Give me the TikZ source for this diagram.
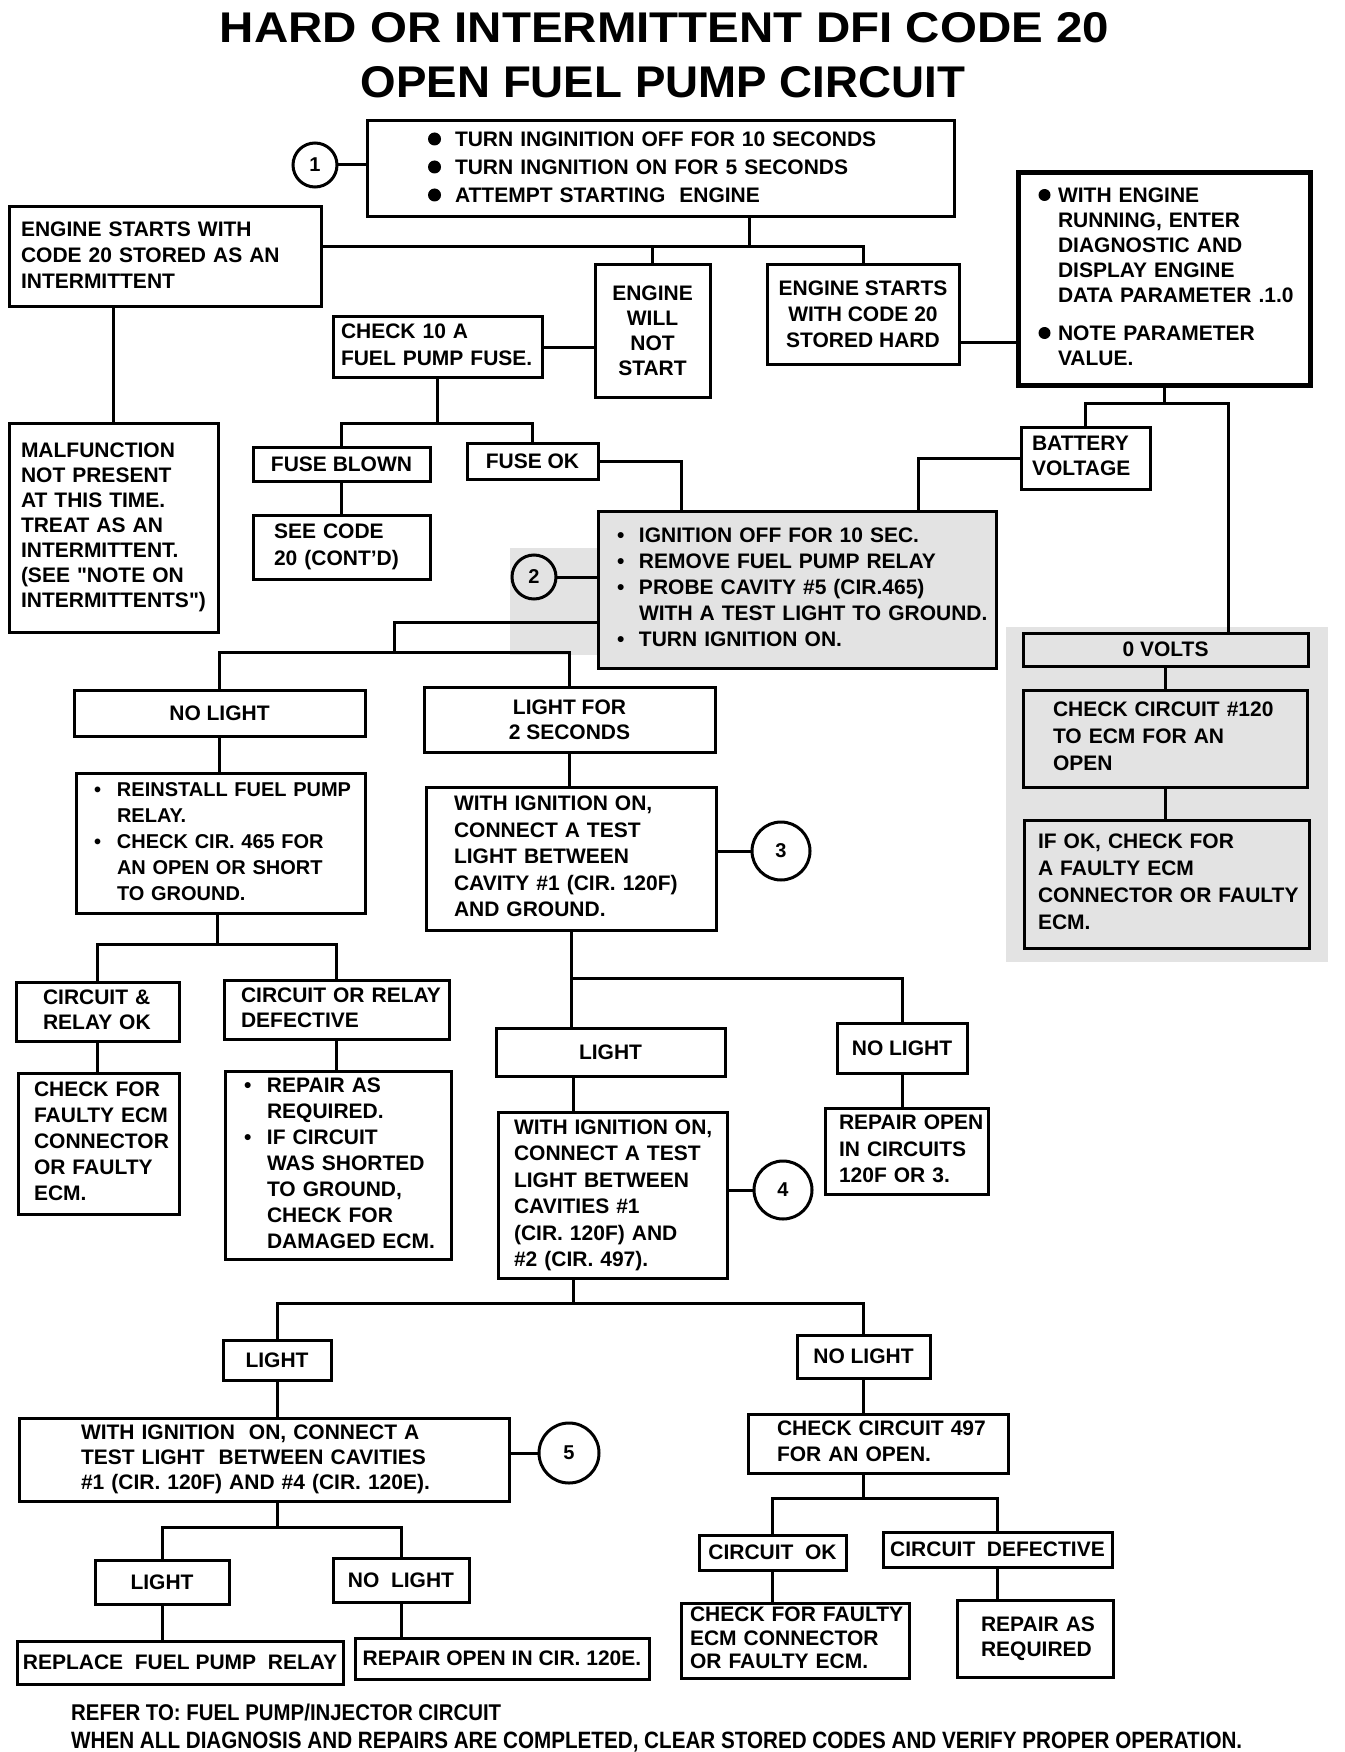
\documentclass[tikz,border=0pt]{standalone}
\usepackage{fontspec}
\setmainfont{Liberation Sans}
\newcommand\smb[1]{\makebox[#1][l]{\textbullet}}
\newcommand\txl[1]{\begin{tabular}{@{}l@{}}#1\end{tabular}}
\definecolor{stipple}{gray}{0.89}
\begin{document}
\begin{tikzpicture}[x=1pt,y=-1pt,
  bx/.style={draw, line width=3pt, inner sep=0pt, font=\bfseries\fontsize{21}{#1}\selectfont},
  bx/.default=26,
  circ/.style={draw, circle, line width=3pt, inner sep=0pt, font=\bfseries\fontsize{20}{24}\selectfont},
  ln/.style={line width=3pt, line cap=rect},
  dotb/.style={fill=black},
  ttl/.style={inner sep=0pt, anchor=base, font=\bfseries},
  foot/.style={inner sep=0pt, anchor=base west, font=\bfseries}]
\useasboundingbox (0,0) rectangle (1344,1752);
\fill[white] (0,0) rectangle (1344,1752);
% stippled backgrounds
\fill[stipple] (510,548) rectangle (598,655);
\fill[stipple] (1006,627) rectangle (1328,962);

% titles
\node[ttl] (t1) at (664.5,43) {\resizebox{889pt}{30pt}{HARD OR INTERMITTENT DFI CODE 20}};
\node[ttl] (t2) at (663,98) {\resizebox{604pt}{31pt}{OPEN FUEL PUMP CIRCUIT}};

% boxes
\node[bx=28, minimum width=587pt, minimum height=96pt, text width=465pt, align=left] (steps) at (660.5,169)
  {\txl{\hspace*{27pt}TURN INGINITION OFF FOR 10 SECONDS\\ \hspace*{27pt}TURN INGNITION ON FOR 5 SECONDS\\ \hspace*{27pt}ATTEMPT STARTING\ \ ENGINE}};
\fill[dotb] (434.5,139) circle (6.5);
\fill[dotb] (434.5,167) circle (6.5);
\fill[dotb] (434.5,195) circle (6.5);
\node[circ, minimum size=44pt] (c1) at (315,165) {1};

\node[bx=26, minimum width=312pt, minimum height=100pt, text width=288pt, align=left] (intermit) at (165,257)
  {\txl{ENGINE STARTS WITH\\CODE 20 STORED AS AN\\INTERMITTENT}};
\node[bx=25, minimum width=115pt, minimum height=132pt, align=center] (nostart) at (652.5,331)
  {ENGINE\\WILL\\NOT\\START};
\node[bx=26, minimum width=192pt, minimum height=99pt, align=center] (hard) at (863,314.5)
  {ENGINE STARTS\\WITH CODE 20\\STORED HARD};
\node[bx=25, line width=5pt, minimum width=292pt, minimum height=212pt, text width=248pt, align=left] (param) at (1164,279)
  {\txl{\hspace*{18pt}WITH ENGINE\\ \hspace*{18pt}RUNNING, ENTER\\ \hspace*{18pt}DIAGNOSTIC AND\\ \hspace*{18pt}DISPLAY ENGINE\\ \hspace*{18pt}DATA PARAMETER .1.0\\[13pt] \hspace*{18pt}NOTE PARAMETER\\ \hspace*{18pt}VALUE.}};
\fill[dotb] (1044.5,195) circle (6);
\fill[dotb] (1044.5,333) circle (6);
\node[bx=27, minimum width=209pt, minimum height=60pt, text width=193pt, align=left] (check10) at (437.5,347)
  {\txl{CHECK 10 A\\FUEL PUMP FUSE.}};
\node[bx=25, minimum width=209pt, minimum height=209pt, text width=185pt, align=left] (malf) at (113.5,527.5)
  {\txl{MALFUNCTION\\NOT PRESENT\\AT THIS TIME.\\TREAT AS AN\\INTERMITTENT.\\(SEE \textquotedbl NOTE ON\\INTERMITTENTS\textquotedbl)}};
\node[bx, minimum width=177pt, minimum height=34pt] (fuseblown) at (341.5,464) {FUSE BLOWN};
\node[bx, minimum width=131pt, minimum height=36pt] (fuseok) at (532.5,461) {FUSE OK};
\node[bx=27, minimum width=177pt, minimum height=64pt, text width=135pt, align=left] (seecode) at (341.5,547)
  {\txl{SEE CODE\\20 (CONT'D)}};
\node[bx=25, minimum width=129pt, minimum height=62pt, text width=107pt, align=left] (battery) at (1085.5,458)
  {\txl{BATTERY\\VOLTAGE}};
\node[bx=26, fill=stipple, minimum width=398pt, minimum height=157pt, text width=360pt, align=left] (box2) at (797,589.5)
  {\txl{\smb{22pt}IGNITION OFF FOR 10 SEC.\\ \smb{22pt}REMOVE FUEL PUMP RELAY\\ \smb{22pt}PROBE CAVITY \#5 (CIR.465)\\ \hspace*{22pt}WITH A TEST LIGHT TO GROUND.\\ \smb{22pt}TURN IGNITION ON.}};
\node[circ, minimum size=44pt] (c2) at (534,577) {2};

\node[bx, minimum width=285pt, minimum height=33pt] (zerovolts) at (1165.5,649.5) {0 VOLTS};
\node[bx=27, minimum width=284pt, minimum height=97pt, text width=224pt, align=left] (check120) at (1165,738.5)
  {\txl{CHECK CIRCUIT \#120\\TO ECM FOR AN\\OPEN}};
\node[bx=27, minimum width=285pt, minimum height=128pt, text width=257pt, align=left] (ifok) at (1166.5,884)
  {\txl{IF OK, CHECK FOR\\A FAULTY ECM\\CONNECTOR OR FAULTY\\ECM.}};

\node[bx, minimum width=291pt, minimum height=46pt] (nolight1) at (219.5,713) {NO LIGHT};
\node[bx=25, minimum width=291pt, minimum height=65pt, align=center] (lightfor) at (569.5,719.5) {LIGHT FOR\\2 SECONDS};
\node[bx=26, font=\bfseries\fontsize{20}{26}\selectfont, minimum width=289pt, minimum height=140pt, text width=253pt, align=left] (reinstall) at (220.5,843)
  {\txl{\smb{23pt}REINSTALL FUEL PUMP\\ \hspace*{23pt}RELAY.\\ \smb{23pt}CHECK CIR. 465 FOR\\ \hspace*{23pt}AN OPEN OR SHORT\\ \hspace*{23pt}TO GROUND.}};
\node[bx=26.5, minimum width=290pt, minimum height=143pt, text width=234pt, align=left] (box3) at (571,858.5)
  {\txl{WITH IGNITION ON,\\CONNECT A TEST\\LIGHT BETWEEN\\CAVITY \#1 (CIR. 120F)\\AND GROUND.}};
\node[circ, minimum size=58pt] (c3) at (781,851) {3};

\node[bx=25, minimum width=163pt, minimum height=59pt, text width=109pt, align=left] (relok) at (97.5,1011.5)
  {\txl{CIRCUIT \&\\RELAY OK}};
\node[bx=25, minimum width=225pt, minimum height=59pt, text width=191pt, align=left] (reldef) at (336.5,1009.5)
  {\txl{CIRCUIT OR RELAY\\DEFECTIVE}};
\node[bx=26, minimum width=161pt, minimum height=141pt, text width=129pt, align=left] (faultyecm1) at (98.5,1143.5)
  {\txl{CHECK FOR\\FAULTY ECM\\CONNECTOR\\OR FAULTY\\ECM.}};
\node[bx=26, minimum width=226pt, minimum height=188pt, text width=188pt, align=left] (repairas1) at (338,1165)
  {\txl{\smb{23pt}REPAIR AS\\ \hspace*{23pt}REQUIRED.\\ \smb{23pt}IF CIRCUIT\\ \hspace*{23pt}WAS SHORTED\\ \hspace*{23pt}TO GROUND,\\ \hspace*{23pt}CHECK FOR\\ \hspace*{23pt}DAMAGED ECM.}};

\node[bx, minimum width=229pt, minimum height=48pt] (light2) at (610.5,1052) {LIGHT};
\node[bx, minimum width=130pt, minimum height=50pt] (nolight2) at (902,1048) {NO LIGHT};
\node[bx=26.5, minimum width=163pt, minimum height=86pt, text width=135pt, align=left] (repairopen) at (906.5,1151)
  {\txl{REPAIR OPEN\\IN CIRCUITS\\120F OR 3.}};
\node[bx=26.5, minimum width=229pt, minimum height=166pt, text width=197pt, align=left] (box4) at (612.5,1195)
  {\txl{WITH IGNITION ON,\\CONNECT A TEST\\LIGHT BETWEEN\\CAVITIES \#1\\(CIR. 120F) AND\\\#2 (CIR. 497).}};
\node[circ, minimum size=58pt] (c4) at (783,1190) {4};

\node[bx, minimum width=108pt, minimum height=40pt] (light3) at (277,1360) {LIGHT};
\node[bx=25, minimum width=490pt, minimum height=83pt, text width=366pt, align=left] (box5) at (264,1459.5)
  {\txl{WITH IGNITION\ \ ON, CONNECT A\\TEST LIGHT\ \ BETWEEN CAVITIES\\\#1 (CIR. 120F) AND \#4 (CIR. 120E).}};
\node[circ, minimum size=60pt] (c5) at (569,1453) {5};
\node[bx, minimum width=134pt, minimum height=44pt] (light4) at (162,1582) {LIGHT};
\node[bx, minimum width=136pt, minimum height=44pt] (nolight4) at (401,1580) {NO\ \ LIGHT};
\node[bx, minimum width=326pt, minimum height=43pt] (replace) at (180,1662.5) {REPLACE\ \ FUEL PUMP\ \ RELAY};
\node[bx, minimum width=294pt, minimum height=41pt] (repair120e) at (502,1658.5) {REPAIR OPEN IN CIR. 120E.};

\node[bx, minimum width=133pt, minimum height=43pt] (nolight5) at (863.5,1356.5) {NO LIGHT};
\node[bx=26, minimum width=260pt, minimum height=59pt, text width=202pt, align=left] (check497) at (878,1443.5)
  {\txl{CHECK CIRCUIT 497\\FOR AN OPEN.}};
\node[bx, minimum width=147pt, minimum height=35pt] (cirok) at (772.5,1552.5) {CIRCUIT\ \ OK};
\node[bx, minimum width=229pt, minimum height=35pt] (cirdef) at (997.5,1549.5) {CIRCUIT\ \ DEFECTIVE};
\node[bx=23.5, minimum width=228pt, minimum height=75pt, text width=210pt, align=left] (faultyecm2) at (795,1640.5)
  {\txl{CHECK FOR FAULTY\\ECM CONNECTOR\\OR FAULTY ECM.}};
\node[bx=25, minimum width=156pt, minimum height=77pt, text width=108pt, align=left] (repairas2) at (1035,1638.5)
  {\txl{REPAIR AS\\REQUIRED}};

% footer
\node[foot] (f1) at (71,1720) {\resizebox{430pt}{16.5pt}{REFER TO: FUEL PUMP/INJECTOR CIRCUIT}};
\node[foot] (f2) at (71,1748) {\resizebox{1171pt}{16.5pt}{WHEN ALL DIAGNOSIS AND REPAIRS ARE COMPLETED, CLEAR STORED CODES AND VERIFY PROPER OPERATION.}};

% junction coordinates
\coordinate (j1) at (749,247);
\coordinate (j2) at (437.5,423);
\coordinate (j4) at (1164,403);
\coordinate (j5) at (990,342);
\coordinate (j6) at (394,652);
\coordinate (j7) at (394,622);
\coordinate (j8) at (217,944);
\coordinate (j10) at (571,978);
\coordinate (j9) at (573,1303);
\coordinate (j11) at (279,1527);
\coordinate (j12) at (863,1498);
\coordinate (zvt) at ([xshift=62.5pt]zerovolts.north);
\coordinate (b2a) at ([xshift=-116pt]box2.north);
\coordinate (b2b) at ([xshift=121pt]box2.north);
\coordinate (l2s) at ([xshift=-37.5pt]light2.south);
\coordinate (b4s) at ([xshift=-39.5pt]box4.south);
\coordinate (b5s) at (light3.south |- box5.south);
\coordinate (c497s) at (nolight5.south |- check497.south);

% connectors
\draw[ln] (c1.east) -- (c1.east -| steps.west);
\draw[ln] (steps.south -| j1) -- (j1);
\draw[ln] (intermit.east |- j1) -- (j1 -| hard.north) -- (hard.north);
\draw[ln] (j1 -| nostart.north) -- (nostart.north);
\draw[ln] (malf.north |- intermit.south) -- (malf.north);
\draw[ln] (check10.east) -- (check10.east -| nostart.west);
\draw[ln] (check10.south) -- (j2);
\draw[ln] (fuseblown.north) -- (fuseblown.north |- j2) -- (fuseok.north |- j2) -- (fuseok.north);
\draw[ln] (fuseblown.south) -- (seecode.north);
\draw[ln] (fuseok.east) -| (b2a);
\draw[ln] (hard.east |- j5) -- (param.west |- j5);
\draw[ln] (param.south) -- (j4);
\draw[ln] (battery.north) -- (battery.north |- j4) -- (zvt |- j4) -- (zvt);
\draw[ln] (battery.west) -| (b2b);
\draw[ln] (c2.east) -- (c2.east -| box2.west);
\draw[ln] (j7 -| box2.west) -- (j7) -- (j6);
\draw[ln] (nolight1.north) -- (nolight1.north |- j6) -- (lightfor.north |- j6) -- (lightfor.north);
\draw[ln] (nolight1.south) -- (nolight1.south |- reinstall.north);
\draw[ln] (lightfor.south) -- (lightfor.south |- box3.north);
\draw[ln] (box3.east |- c3) -- (c3.west);
\draw[ln] (reinstall.south -| j8) -- (j8);
\draw[ln] (relok.north) -- (relok.north |- j8) -- (reldef.north |- j8) -- (reldef.north);
\draw[ln] (relok.south) -- (relok.south |- faultyecm1.north);
\draw[ln] (reldef.south) -- (reldef.south |- repairas1.north);
\draw[ln] (box3.south) -- (box3.south |- light2.north);
\draw[ln] (j10) -- (nolight2.north |- j10) -- (nolight2.north);
\draw[ln] (l2s) -- (l2s |- box4.north);
\draw[ln] (nolight2.south) -- (nolight2.south |- repairopen.north);
\draw[ln] (box4.east |- c4) -- (c4.west);
\draw[ln] (b4s) -- (b4s |- j9);
\draw[ln] (light3.north) -- (light3.north |- j9) -- (nolight5.north |- j9) -- (nolight5.north);
\draw[ln] (light3.south) -- (light3.south |- box5.north);
\draw[ln] (box5.east |- c5) -- (c5.west);
\draw[ln] (b5s) -- (b5s |- j11);
\draw[ln] (light4.north) -- (light4.north |- j11) -- (nolight4.north |- j11) -- (nolight4.north);
\draw[ln] (light4.south) -- (light4.south |- replace.north);
\draw[ln] (nolight4.south) -- (nolight4.south |- repair120e.north);
\draw[ln] (nolight5.south) -- (nolight5.south |- check497.north);
\draw[ln] (c497s) -- (c497s |- j12);
\draw[ln] (cirok.north) -- (cirok.north |- j12) -- (cirdef.north |- j12) -- (cirdef.north);
\draw[ln] (cirok.south) -- (cirok.south |- faultyecm2.north);
\draw[ln] (cirdef.south) -- (cirdef.south |- repairas2.north);
\draw[ln] (zerovolts.south) -- (zerovolts.south |- check120.north);
\draw[ln] (check120.south) -- (check120.south |- ifok.north);
\end{tikzpicture}
\end{document}
